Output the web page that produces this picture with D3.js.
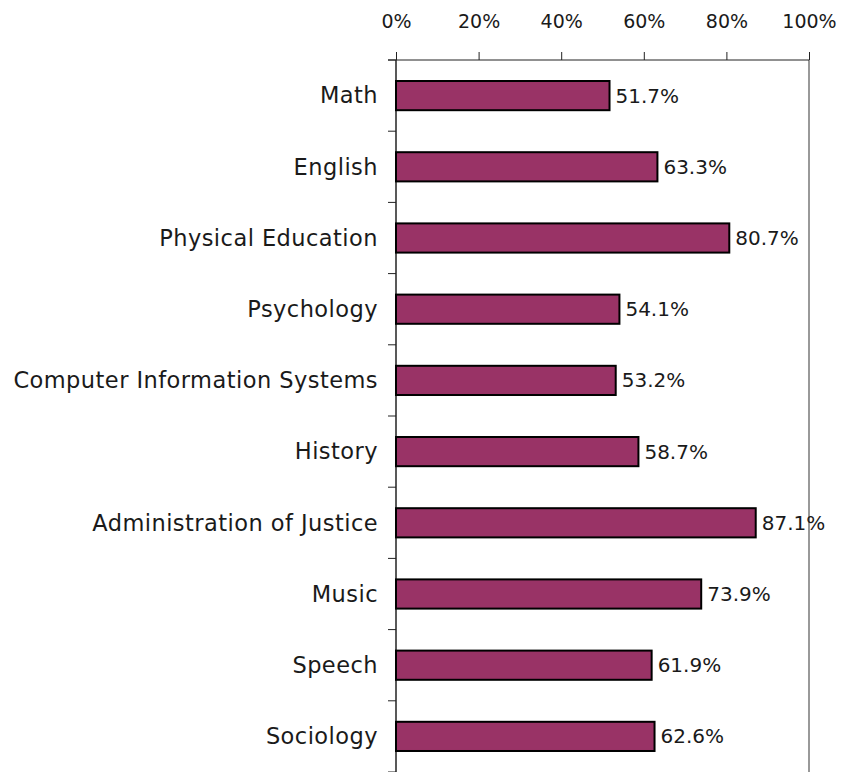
<!DOCTYPE html>
<html>
<meta charset="utf-8">
<head>
  <script src="https://cdn.jsdelivr.net/npm/d3@7"></script>
  <style>
  body { margin: 0; background: #fff; }
  text { font-family: "DejaVu Sans", sans-serif; fill: #1a1a1a; }
  .cat-label { font-size: 22.5px; letter-spacing: 0.45px; }
  .val-label { font-size: 20px; }
  </style>
</head>
<body>
<div id="chart"></div>
<script>

var categories = ["Math", "English", "Physical Education", "Psychology",
  "Computer Information Systems", "History", "Administration of Justice",
  "Music", "Speech", "Sociology"]
var values = [51.7, 63.3, 80.7, 54.1, 53.2, 58.7, 87.1, 73.9, 61.9, 62.6]
var xTicks = [0, 20, 40, 60, 80, 100]

var W = 842, H = 772
var margin = {top: 60, right: 33, bottom: 0, left: 396}

var svg = d3.select("#chart").append("svg")
    .attr("width", W)
    .attr("height", H)

var x = d3.scaleLinear().domain([0, 100]).range([margin.left, W - margin.right])
var y = d3.scaleBand().domain(categories)
    .range([margin.top, H - margin.bottom])
    .paddingInner(0.59).paddingOuter(0.295)

var gap = (y.step() - y.bandwidth()) / 2
var bounds = categories.map(function(c) { return y(c) - gap })
bounds.push(y(categories[categories.length - 1]) + y.bandwidth() + gap)

// right border (100%)
svg.append("line")
    .attr("x1", x(100)).attr("x2", x(100))
    .attr("y1", y.range()[0]).attr("y2", y.range()[1])
    .attr("stroke", "#999").attr("stroke-width", 2)

// top axis
var xAxis = d3.axisTop(x).tickValues(xTicks).tickSize(8).tickSizeOuter(0)
    .tickFormat(function(d) { return d + "%" })
var gx = svg.append("g")
    .attr("transform", "translate(0," + margin.top + ")")
    .call(xAxis)
gx.select(".domain").remove()
gx.selectAll(".tick line").attr("stroke", "#222")
gx.selectAll(".tick text")
    .attr("y", -32)
    .attr("dy", 0)
    .attr("fill", "#1a1a1a")
    .style("font-family", "DejaVu Sans")
    .style("font-size", "19px")
svg.append("line")
    .attr("x1", x(0) - 8).attr("x2", x(100))
    .attr("y1", margin.top).attr("y2", margin.top)
    .attr("stroke", "#222")

// left axis with ticks between categories
svg.append("line")
    .attr("x1", x(0)).attr("x2", x(0))
    .attr("y1", y.range()[0]).attr("y2", y.range()[1])
    .attr("stroke", "#222").attr("stroke-width", 1.5)
svg.selectAll(".cat-tick").data(bounds).enter().append("line")
    .attr("class", "cat-tick")
    .attr("x1", x(0) - 8).attr("x2", x(0))
    .attr("y1", function(d) { return d }).attr("y2", function(d) { return d })
    .attr("stroke", "#222")

// bars
svg.selectAll(".bar").data(values).enter().append("rect")
    .attr("class", "bar")
    .attr("x", x(0))
    .attr("y", function(d, i) { return y(categories[i]) })
    .attr("width", function(d) { return x(d) - x(0) })
    .attr("height", y.bandwidth())
    .attr("fill", "#993366")
    .attr("stroke", "#000")
    .attr("stroke-width", 2)

// category labels
svg.selectAll(".cat-label").data(categories).enter().append("text")
    .attr("class", "cat-label")
    .attr("x", x(0) - 18)
    .attr("y", function(d) { return y(d) + y.bandwidth() / 2 })
    .attr("dy", "0.35em")
    .attr("text-anchor", "end")
    .text(function(d) { return d })

// value labels
svg.selectAll(".val-label").data(values).enter().append("text")
    .attr("class", "val-label")
    .attr("x", function(d) { return x(d) + 6 })
    .attr("y", function(d, i) { return y(categories[i]) + y.bandwidth() / 2 })
    .attr("dy", "0.35em")
    .text(function(d) { return d.toFixed(1) + "%" })

</script>
</body>
</html>
